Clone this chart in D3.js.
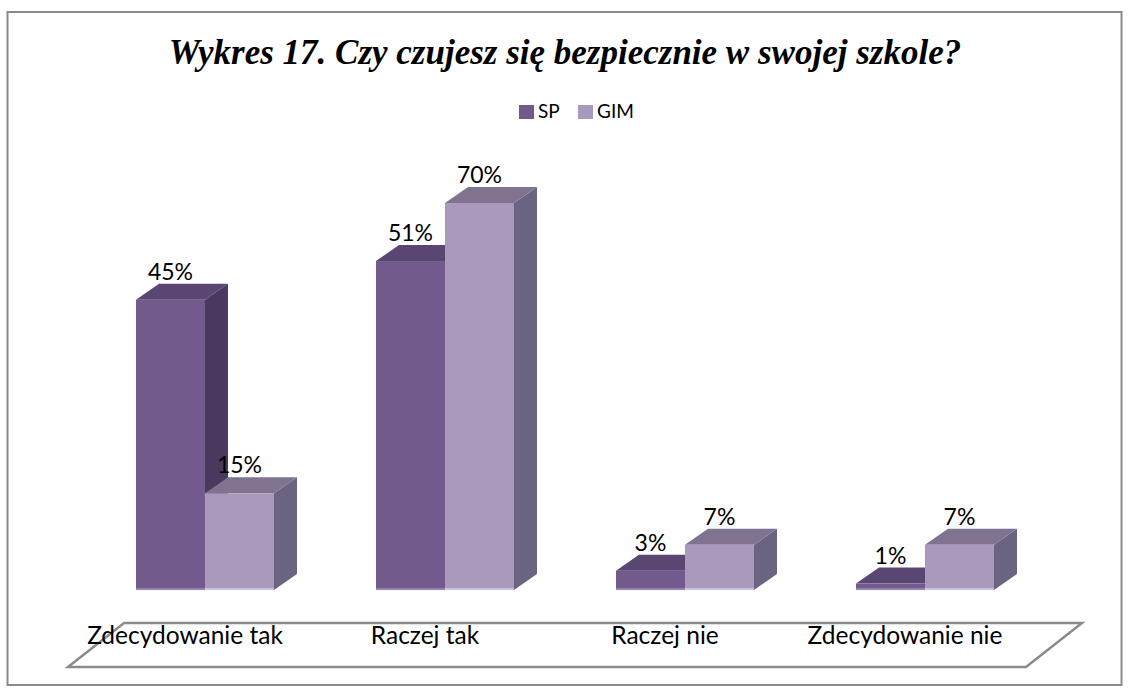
<!DOCTYPE html>
<html>
<head>
<meta charset="utf-8">
<script src="https://cdn.jsdelivr.net/npm/d3@7"></script>
<style>
  body { margin: 0; background: #fff; }
  text { font-family: Lato, "Open Sans", sans-serif; }
</style>
</head>
<body>
<script>
const categories = ['Zdecydowanie tak', 'Raczej tak', 'Raczej nie', 'Zdecydowanie nie'];
const seriesNames = ['SP', 'GIM'];
// bar heights as drawn (the 70% bar is drawn at about 60 in the source)
const spValues = [45, 51, 3, 1];
const gimValues = [15, 60, 7, 7];
const spLabels = ['45%', '51%', '3%', '1%'];
const gimLabels = ['15%', '70%', '7%', '7%'];

const width = 1130, height = 693;
const depthX = 23, depthY = -16;

const colors = {
  SP:  { front: '#725a8c', top: '#594672', side: '#483a5e', rim: '#9683ad' },
  GIM: { front: '#a899bd', top: '#7f7390', side: '#6b6480', rim: '#cbc1d8' }
};

const svg = d3.select('body').append('svg')
  .attr('width', width)
  .attr('height', height);

// chart frame
svg.append('rect')
  .attr('x', 7.5).attr('y', 12)
  .attr('width', 1114).attr('height', 673)
  .attr('fill', 'none')
  .attr('stroke', '#8a8a8a')
  .attr('stroke-width', 2);

svg.append('text')
  .attr('x', 565).attr('y', 64)
  .attr('text-anchor', 'middle')
  .style('font-family', '"Liberation Serif", "Times New Roman", serif')
  .style('font-weight', 'bold')
  .style('font-style', 'italic')
  .style('font-size', '35px')
  .text('Wykres 17. Czy czujesz się bezpiecznie w swojej szkole?');

// legend
const legend = svg.append('g').attr('transform', 'translate(519,105)');
const legendX = [0, 59];
seriesNames.forEach((name, i) => {
  legend.append('rect')
    .attr('x', legendX[i]).attr('y', 0)
    .attr('width', 15).attr('height', 14)
    .attr('fill', colors[name].front);
  legend.append('text')
    .attr('x', legendX[i] + 19).attr('y', 13)
    .style('font-size', '19px')
    .text(name);
});

// floor
const floor = [[124, 623], [1082, 623], [1026, 667], [68, 667]];
svg.append('path')
  .attr('d', d3.line()(floor) + 'Z')
  .attr('fill', '#fff')
  .attr('stroke', '#8a8a8a')
  .attr('stroke-width', 2.5);

const x0 = d3.scaleBand().domain(categories).range([85, 1045]).paddingInner(0.425).paddingOuter(0.2125);
const x1 = d3.scaleBand().domain(seriesNames).range([0, x0.bandwidth()]);
const y = d3.scaleLinear().domain([0, 60]).range([590, 203]);

const data = categories.map((c, i) => ({
  category: c,
  bars: [
    { series: 'SP', value: spValues[i], label: spLabels[i] },
    { series: 'GIM', value: gimValues[i], label: gimLabels[i] }
  ]
}));

const groups = svg.selectAll('g.group')
  .data(data)
  .join('g')
  .attr('class', 'group')
  .attr('transform', d => `translate(${x0(d.category)},0)`);

const bars = groups.selectAll('g.bar')
  .data(d => d.bars)
  .join('g')
  .attr('class', 'bar');

bars.each(function(d) {
  const g = d3.select(this);
  const left = x1(d.series);
  const right = left + x1.bandwidth();
  const top = y(d.value);
  const base = y(0);
  const c = colors[d.series];

  g.append('path')
    .attr('d', d3.line()([[right, top], [right + depthX, top + depthY], [right + depthX, base + depthY], [right, base]]) + 'Z')
    .attr('fill', c.side);
  g.append('path')
    .attr('d', d3.line()([[left, top], [left + depthX, top + depthY], [right + depthX, top + depthY], [right, top]]) + 'Z')
    .attr('fill', c.top);
  g.append('rect')
    .attr('x', left).attr('y', top)
    .attr('width', x1.bandwidth()).attr('height', base - top)
    .attr('fill', c.front);
  g.append('rect')
    .attr('x', left).attr('y', base - 2)
    .attr('width', x1.bandwidth()).attr('height', 2)
    .attr('fill', c.rim);
  g.append('text')
    .attr('x', left + x1.bandwidth() / 2)
    .attr('y', top - 20)
    .attr('text-anchor', 'middle')
    .style('font-size', '23px')
    .text(d.label);
});

// category labels on the floor
svg.selectAll('text.cat')
  .data(categories)
  .join('text')
  .attr('class', 'cat')
  .attr('x', d => x0(d) + x0.bandwidth() / 2 - 20)
  .attr('y', 644)
  .attr('text-anchor', 'middle')
  .style('font-size', '24.5px')
  .text(d => d);
</script>
</body>
</html>
